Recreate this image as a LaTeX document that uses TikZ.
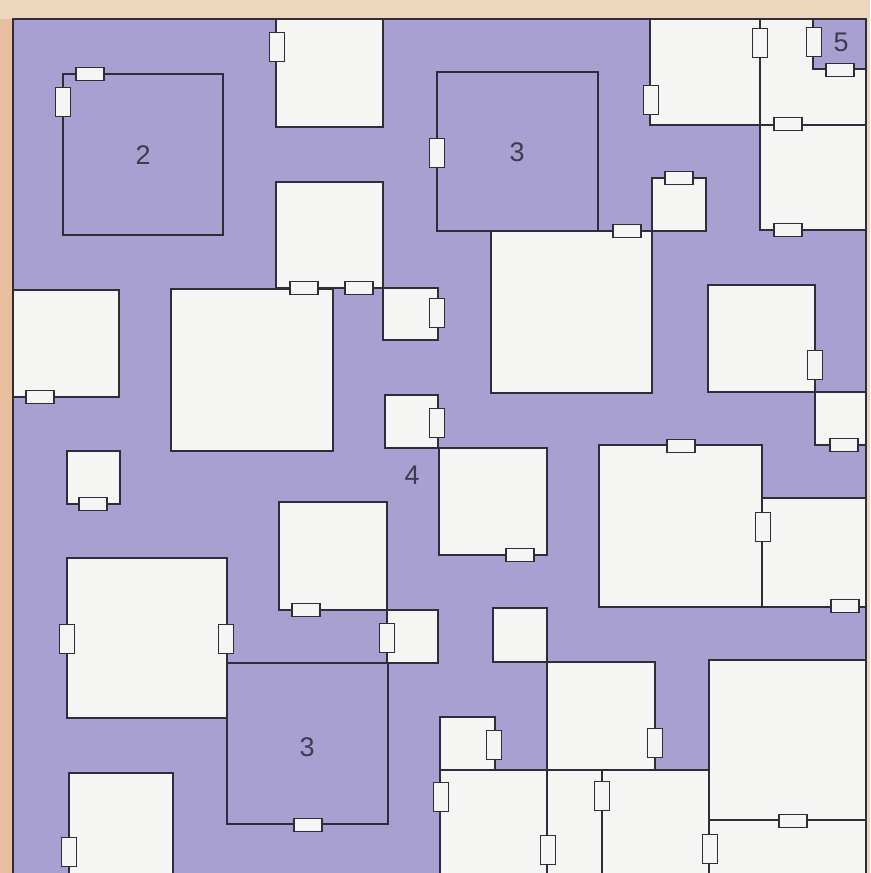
\documentclass[tikz,border=0pt]{standalone}
\usepackage{xcolor}
\usepackage{fontspec}
\setmainfont{Liberation Sans}
\definecolor{FPPaper}{HTML}{EDD6BE}
\definecolor{FPPeach}{HTML}{E8BF9E}
\definecolor{FPPurple}{HTML}{A9A0D2}
\definecolor{FPWhite}{HTML}{F5F5F3}
\definecolor{FPLine}{HTML}{2E2E3A}
\definecolor{FPText}{HTML}{3C3C4C}
\begin{document}
\begin{tikzpicture}[x=0.3mm,y=-0.3mm,
  room/.style={draw=FPLine,fill=FPWhite,line width=1.5pt},
  hall/.style={draw=FPLine,line width=1.5pt},
  door/.style={draw=FPLine,fill=FPWhite,line width=1pt},
  num/.style={text=FPText,font=\fontsize{23}{23}\selectfont}]
\path[use as bounding box] (0,0) rectangle (870,873);
\fill[FPPaper] (0,0) rectangle (870,873);
\fill[FPPeach] (0,19) rectangle (13,873);
\fill[FPPurple] (13,19) rectangle (866,873);
\draw[FPLine,line width=1.5pt] (13,873) -- (13,19) -- (866,19) -- (866,873);
% white rooms, left half
\draw[room] (276,19) rectangle (383,127);
\draw[room] (276,182) rectangle (383,288);
\draw[room] (383,288) rectangle (438,340);
\draw[room] (13,290) rectangle (119,397);
\draw[room] (171,289) rectangle (333,451);
\draw[room] (67,451) rectangle (120,504);
\draw[room] (385,395) rectangle (438,448);
\draw[room] (279,502) rectangle (387,610);
\draw[room] (387,610) rectangle (438,663);
\draw[room] (67,558) rectangle (227,718);
\draw[room] (69,773) rectangle (173,880);
% white rooms, right half
\draw[room] (650,19) rectangle (760,125);
\draw[room] (760,19) rectangle (866,125);
\draw[room] (760,125) rectangle (866,230);
\draw[room] (652,178) rectangle (706,231);
\draw[room] (491,231) rectangle (652,393);
\draw[room] (708,285) rectangle (815,392);
\draw[room] (815,392) rectangle (866,445);
\draw[room] (439,448) rectangle (547,555);
\draw[room] (599,445) rectangle (762,607);
\draw[room] (762,498) rectangle (866,607);
\draw[room] (493,608) rectangle (547,662);
\draw[room] (547,662) rectangle (655,770);
\draw[room] (440,717) rectangle (495,770);
\draw[room] (440,770) rectangle (547,880);
\draw[room] (547,770) rectangle (602,880);
\draw[room] (602,770) rectangle (709,880);
\draw[room] (709,660) rectangle (866,820);
\draw[room] (709,820) rectangle (866,880);
\draw[FPLine,line width=1.5pt] (547,608) -- (547,873);
% open halls
\draw[hall] (63,74) rectangle (223,235);
\draw[hall] (437,72) rectangle (598,231);
\draw[hall] (227,663) rectangle (388,824);
\draw[hall,fill=FPPurple] (813,19) rectangle (866,69);
% doors
\foreach \x/\y in {90/74,304/288,359/288,40/397,93/504,306/610,308/825,840/70,788/124,788/230,679/178,627/231,844/445,520/555,681/446,845/606,793/821}
  \draw[door] (\x-14,\y-6.5) rectangle (\x+14,\y+6.5);
\foreach \x/\y in {63/102,277/47,437/313,437/423,67/639,226/639,387/638,69/852,437/153,651/100,760/43,814/42,815/365,763/527,655/743,548/850,494/745,441/797,602/796,710/849}
  \draw[door] (\x-7.5,\y-14.5) rectangle (\x+7.5,\y+14.5);
% numbers
\node[num] (hall2) at (143,155) {2};
\node[num] (hall3a) at (517,152) {3};
\node[num] (hall3b) at (307,747) {3};
\node[num] (hall4) at (412,475) {4};
\node[num] (hall5) at (841,42) {5};
\end{tikzpicture}
\end{document}
